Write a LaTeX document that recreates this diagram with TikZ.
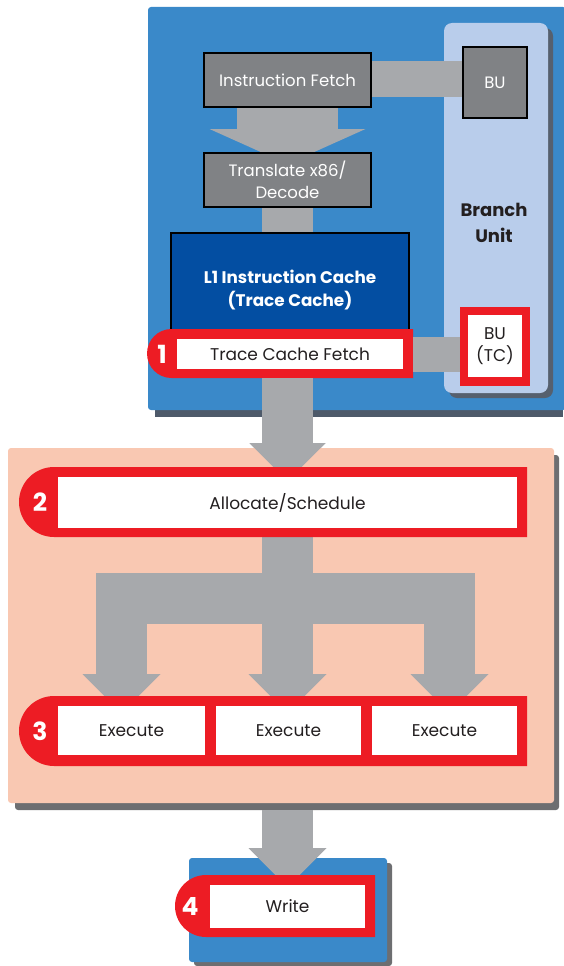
\documentclass[tikz,border=0pt]{standalone}
\usepackage{fontspec}
\setmainfont{Poppins}
\usetikzlibrary{calc}
\definecolor{bluepanel}{HTML}{3A89C9}
\definecolor{blueshadow}{HTML}{4E5A6A}
\definecolor{lightblue}{HTML}{B9CDEB}
\definecolor{lbshadow}{HTML}{56606E}
\definecolor{boxgray}{HTML}{808285}
\definecolor{arrowgray}{HTML}{A7A9AC}
\definecolor{darkblue}{HTML}{034EA2}
\definecolor{redx}{HTML}{ED1C24}
\definecolor{peach}{HTML}{F9C8B2}
\definecolor{peachshadow}{HTML}{6D6E71}
\definecolor{textdark}{HTML}{231F20}
\newcommand{\ahead}[4]{\fill[arrowgray] (#1-#3,#2) -- (#1+#3,#2) -- (#1,#2+#4) -- cycle;}
\tikzset{
  graybox/.style={draw=black, line width=2pt, fill=boxgray, text=white, inner sep=0pt, align=center, font=\fontsize{16.5}{22}\selectfont},
  whitebox/.style={fill=white, inner sep=0pt, text=textdark, align=center, font=\fontsize{17}{22}\selectfont},
  numtxt/.style={text=white, inner sep=0pt, font=\bfseries\fontsize{25}{25}\selectfont},
  shaft/.style={draw=arrowgray, line cap=butt},
}
\begin{document}
\begin{tikzpicture}[x=1pt,y=-1pt]
\useasboundingbox (0,0) rectangle (563,966);
% ---------- top blue panel
\fill[blueshadow] (155,14) rectangle (563,417);
\fill[bluepanel, rounded corners=3pt] (148,7) rectangle (566,410);
\fill[lbshadow, rounded corners=8pt] (449,28) rectangle (553,398);
\fill[lightblue, rounded corners=8pt] (444,23) rectangle (548,393);
\node[font=\bfseries\fontsize{18}{26}\selectfont, text=textdark, align=center] (BUlabel) at (494,223) {Branch\\Unit};
% boxes (defined first for names)
\node[graybox, minimum width=167pt, minimum height=54pt] (IF) at (287.5,80) {Instruction Fetch};
\node[graybox, minimum width=64pt, minimum height=71pt] (BU) at (495,82.5) {BU};
\node[graybox, minimum width=167pt, minimum height=54pt] (TD) at (287.5,180) {Translate x86/\\Decode};
\coordinate (hIF) at (287.5,129);
\coordinate (hTC) at (287.5,443);
\coordinate (hW) at (287.5,848);
% IF -> BU
\draw[shaft, line width=36pt] (IF.east |- 0,79) -- (BU.west |- 0,79);
% IF -> TD
\draw[shaft, line width=101pt] (IF.south) -- (hIF);
\ahead{287.5}{129}{78}{35}
% redraw boxes over
\node[graybox, minimum width=167pt, minimum height=54pt] at (IF) {Instruction Fetch};
\node[graybox, minimum width=64pt, minimum height=71pt] at (BU) {BU};
\node[graybox, minimum width=167pt, minimum height=54pt] at (TD) {Translate x86/\\Decode};
% TD -> L1
\node[draw=black, line width=2.5pt, fill=darkblue, minimum width=238pt, minimum height=114pt, inner sep=0pt] (L1) at (290,290) {};
\draw[shaft, line width=51pt] (TD.south) -- (TD.south |- L1.north);
\node[draw=black, line width=2.5pt, fill=darkblue, minimum width=238pt, minimum height=114pt, inner sep=0pt, text=white, align=center, font=\bfseries\fontsize{16.8}{23}\selectfont] at (L1) {L1 Instruction Cache\\(Trace Cache)};
% Trace cache fetch
\node[whitebox, minimum width=70pt, minimum height=79pt, fill=redx] (BUTCr) at (495,346.5) {};
\node[whitebox, minimum width=54pt, minimum height=62pt] (BUTC) at (495,346) {BU\\(TC)};
\fill[redx] (413,329) [rounded corners=24.5pt] -- (147,329) -- (147,378) [sharp corners] -- (413,378) -- cycle;
\node[whitebox, minimum width=226pt, minimum height=30pt] (TCF) at (290,354) {Trace Cache Fetch};
\node[numtxt] (n1) at (162,354) {1};
\draw[shaft, line width=35pt] (413,354.5) -- (BUTCr.west |- 0,354.5);
% ---------- peach panel
\fill[peachshadow, rounded corners=3pt] (15,455) rectangle (559,810);
% TCF -> Allocate
\draw[shaft, line width=51pt] (hTC |- 0,378) -- (hTC);
\ahead{287.5}{443}{38}{38}
\fill[peach, rounded corners=3pt] (8,448) rectangle (554,803);
\ahead{287.5}{443}{38}{38}
% Allocate
\coordinate (hb1) at (121.5,674);
\coordinate (hb2) at (287.5,674);
\coordinate (hb3) at (449.5,674);
\draw[shaft, line width=51pt] (287.5,537) -- (hb2);
\draw[shaft, line width=51pt] (96,598.5) -- (475,598.5);
\draw[shaft, line width=51pt] (121.5,573) -- (hb1);
\draw[shaft, line width=51pt] (449.5,573) -- (hb3);
\ahead{121.5}{674}{39}{39}
\ahead{287.5}{674}{39}{39}
\ahead{449.5}{674}{39}{39}
\fill[redx] (527,467) [rounded corners=35pt] -- (19,467) -- (19,537) [sharp corners] -- (527,537) -- cycle;
\node[whitebox, minimum width=459pt, minimum height=51pt] (AL) at (287.5,502.5) {Allocate/Schedule};
\node[numtxt] (n2) at (40,502) {2};
% Execute
\fill[redx] (527,696) [rounded corners=35pt] -- (19,696) -- (19,766) [sharp corners] -- (527,766) -- cycle;
\node[whitebox, minimum width=147pt, minimum height=49pt] (E1) at (131.5,730.5) {Execute};
\node[whitebox, minimum width=145pt, minimum height=49pt] (E2) at (288.5,730.5) {Execute};
\node[whitebox, minimum width=145pt, minimum height=49pt] (E3) at (444.5,730.5) {Execute};
\node[numtxt] (n3) at (40,731) {3};
% ---------- write
\draw[shaft, line width=51pt] (hW |- 0,810) -- (hW);
\fill[peachshadow, rounded corners=3pt] (194,863) rectangle (392,966);
\fill[bluepanel, rounded corners=3pt] (189,858) rectangle (387,962);
\ahead{287.5}{848}{39}{39}
\fill[redx] (375,875) [rounded corners=31pt] -- (175,875) -- (175,937) [sharp corners] -- (375,937) -- cycle;
\node[whitebox, minimum width=155pt, minimum height=43pt] (W) at (287.5,906.5) {Write};
\node[numtxt] (n4) at (190,906) {4};
\end{tikzpicture}
\end{document}
